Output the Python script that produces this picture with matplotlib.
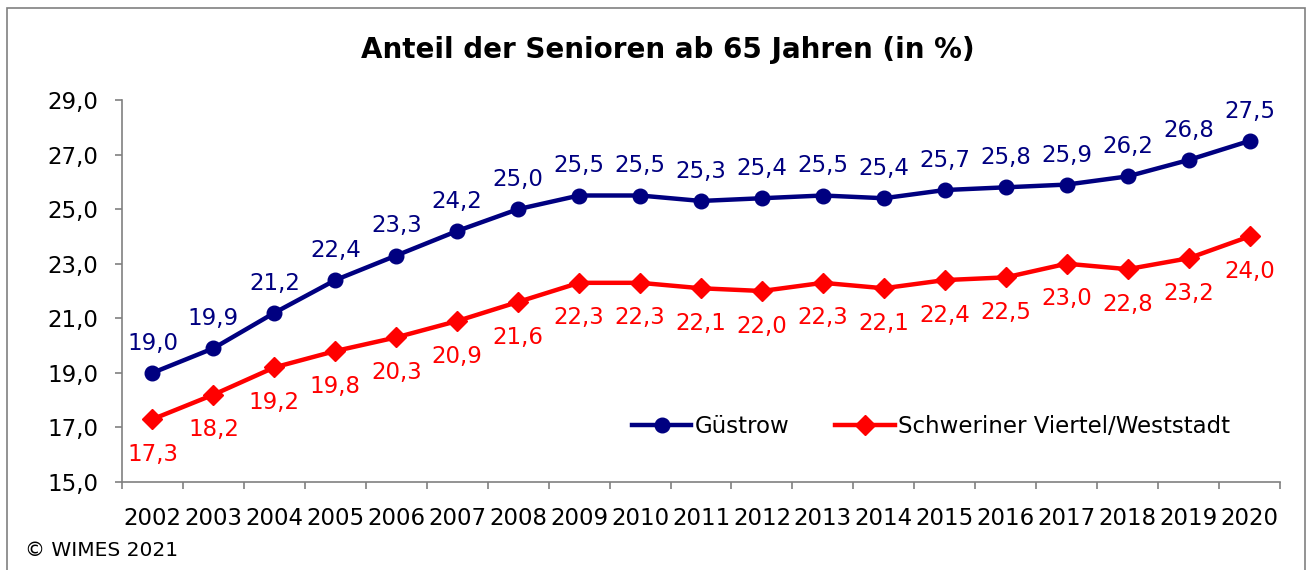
import matplotlib
matplotlib.use("Agg")
import matplotlib.pyplot as plt
from matplotlib.patches import Rectangle

years = [str(y) for y in range(2002, 2021)]
guestrow = [19.0, 19.9, 21.2, 22.4, 23.3, 24.2, 25.0, 25.5, 25.5, 25.3, 25.4,
            25.5, 25.4, 25.7, 25.8, 25.9, 26.2, 26.8, 27.5]
schwerin = [17.3, 18.2, 19.2, 19.8, 20.3, 20.9, 21.6, 22.3, 22.3, 22.1, 22.0,
            22.3, 22.1, 22.4, 22.5, 23.0, 22.8, 23.2, 24.0]
yticks = [15, 17, 19, 21, 23, 25, 27, 29]
title = "Anteil der Senioren ab 65 Jahren (in %)"
series_names = ["Güstrow", "Schweriner Viertel/Weststadt"]

plt.rcParams['font.family'] = ['DejaVu Sans']
NAVY = '#000080'
RED = '#FF0000'

fig = plt.figure(figsize=(13.08, 5.70), dpi=100)
ax = fig.add_axes([122/1308, 1-482/570, (1280-122)/1308, (482-100)/570])

x = list(range(len(years)))
ax.plot(x, guestrow, color=NAVY, lw=3.2, marker='o', ms=10.5, label=series_names[0], zorder=3)
ax.plot(x, schwerin, color=RED, lw=3.2, marker='D', ms=10, label=series_names[1], zorder=3)

fmt = lambda v: f"{v:.1f}".replace('.', ',')
for xi, v in zip(x, guestrow):
    ax.annotate(fmt(v), (xi, v), xytext=(0, 13), textcoords='offset points',
                ha='center', va='bottom', color=NAVY, fontsize=16.5)
for xi, v in zip(x, schwerin):
    ax.annotate(fmt(v), (xi, v), xytext=(0, -17), textcoords='offset points',
                ha='center', va='top', color=RED, fontsize=16.5)

ax.set_xlim(-0.5, len(years) - 0.5)
ax.set_ylim(15, 29)
ax.set_yticks(yticks)
ax.set_yticklabels([fmt(v) for v in yticks], fontsize=16.5)
ax.set_xticks(x)
ax.set_xticklabels(years, fontsize=16.5)
ax.tick_params(axis='x', length=0, pad=18)
ax.set_xticks([i - 0.5 for i in range(len(years) + 1)], minor=True)
ax.tick_params(axis='x', which='minor', length=5, color='#808080', width=1.2)
ax.tick_params(axis='y', length=5, color='#808080', width=1.2, pad=12)
for s in ['top', 'right']:
    ax.spines[s].set_visible(False)
for s in ['left', 'bottom']:
    ax.spines[s].set_color('#808080')
    ax.spines[s].set_linewidth(1.2)

ax.legend(loc='lower right', bbox_to_anchor=(0.975, 0.06), ncol=2, frameon=False,
          fontsize=16.5, handlelength=2.6, handletextpad=0.15, columnspacing=2.0)

fig.text(668/1308, 1-50/570, title, ha='center', va='center', fontsize=20,
         fontweight='bold')
fig.text(25/1308, 1-551/570, "© WIMES 2021", ha='left', va='center', fontsize=14.5)

fig.patches.append(Rectangle((7/1308, -0.1), (1305-7)/1308, 1.1 - 8/570,
                             transform=fig.transFigure, fill=False,
                             edgecolor='#808080', lw=1.2))

fig.savefig('out.png', dpi=100)
